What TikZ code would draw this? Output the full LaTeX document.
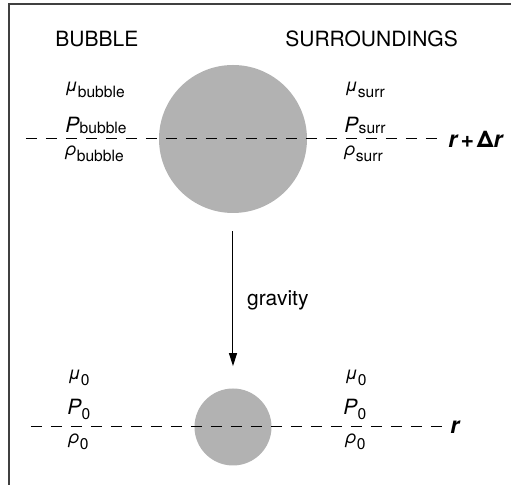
\documentclass[tikz,border=0pt]{standalone}
\usepackage{fontspec}
\setmainfont{TeX Gyre Heros}
\usepackage{tikz}
\usetikzlibrary{arrows.meta,positioning}

\newcommand{\greeksub}[2]{{\fontsize{9}{10}\selectfont\itshape #1}\raisebox{-3pt}{#2}}
\newcommand{\presssub}[2]{\textit{P}\raisebox{-#1}{\fontsize{7.8}{9}\selectfont #2}}

\begin{document}
\begin{tikzpicture}[
    x=0.5pt, y=-0.5pt,
    heading/.style={anchor=base west, inner sep=0, font=\fontsize{10.5}{12}\selectfont},
    greeklabel/.style={anchor=base west, inner sep=0, font=\fontsize{7.8}{9}\selectfont},
    presslabel/.style={anchor=base west, inner sep=0, font=\fontsize{10.5}{12}\selectfont},
    levellabel/.style={inner sep=0, font=\fontsize{11.5}{13}\selectfont\bfseries\itshape},
    bubble/.style={circle, fill=black!30, inner sep=0},
    level/.style={dash pattern=on 5.6pt off 4.4pt, line width=0.5pt},
    frame/.style={black!75, line width=1pt},
    arrow/.style={-{Triangle[length=6.5pt,width=4pt]}, line width=0.5pt}
]
\useasboundingbox (0,0) rectangle (511,485);
\draw[frame] (8.7,485) |- (511,4.3);

\node[heading] (bubblehead) at (55,47) {BUBBLE};
\node[heading] (surrhead) at (285,47) {SURROUNDINGS};

\node[bubble, minimum size=74pt] (bigbubble) at (233,139) {};
\node[bubble, minimum size=38.5pt] (smallbubble) at (233,427) {};

\node[greeklabel] (mububble) at (65,92) {\greeksub{μ}{bubble}};
\node[presslabel] (pbubble) at (65,133) {\presssub{0.5pt}{bubble}};
\node[greeklabel] (rhobubble) at (65,156) {\greeksub{ρ}{bubble}};
\node[greeklabel] (musurr) at (345,92) {\greeksub{μ}{surr}};
\node[presslabel] (psurr) at (344,133) {\presssub{0.5pt}{surr}};
\node[greeklabel] (rhosurr) at (344,156) {\greeksub{ρ}{surr}};

\node[greeklabel] (muzeroL) at (68,380) {\greeksub{μ}{0}};
\node[presslabel] (pzeroL) at (67,415) {\presssub{2.5pt}{0}};
\node[greeklabel] (rhozeroL) at (68,444) {\greeksub{ρ}{0}};
\node[greeklabel] (muzeroR) at (345,380) {\greeksub{μ}{0}};
\node[presslabel] (pzeroR) at (343,415) {\presssub{2.5pt}{0}};
\node[greeklabel] (rhozeroR) at (345,444) {\greeksub{ρ}{0}};

\coordinate (topL) at (26,139);
\coordinate (topR) at (437,139);
\coordinate (botL) at (31,427);
\coordinate (botR) at (447,427);
\node[levellabel, right=5.5pt of topR] (rtop) {r\kern1.5pt+\kern1.5pt{\upshape Δ}r};
\node[levellabel, right=1.5pt of botR] (rbot) {r};

\draw[level] (topL) -- (topR);
\draw[level] (botL) -- (botR);

\draw[arrow, shorten <=9pt, shorten >=11pt] (bigbubble.south) -- node[midway, right=3.5pt, font=\fontsize{10.5}{12}\selectfont]{gravity} (smallbubble.north);
\end{tikzpicture}
\end{document}
